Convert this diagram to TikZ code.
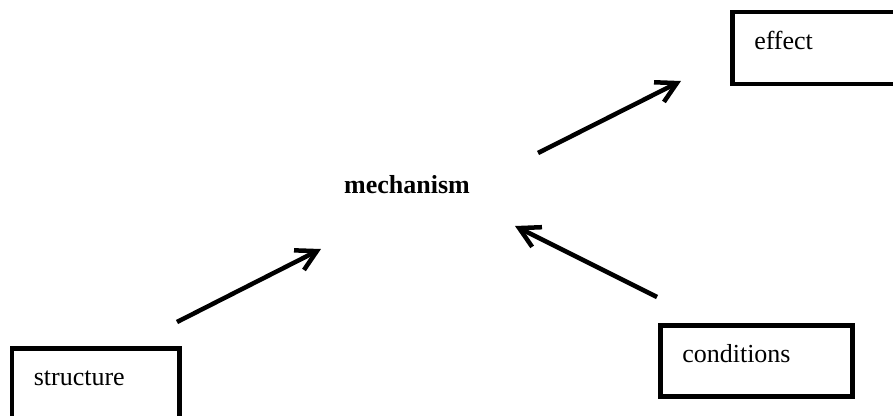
\documentclass[tikz,border=0pt]{standalone}
\usepackage{fontspec}
\setmainfont{Liberation Serif}
\usepackage{tikz}
\usetikzlibrary{arrows.meta}

\begin{document}
\begin{tikzpicture}[x=1pt,y=-1pt]
  \tikzstyle{box} = [rectangle, draw=black, line width=4.5pt, inner xsep=22pt, inner ysep=0pt, align=left, anchor=north west, font=\fontsize{26}{30}\selectfont]
  \tikzstyle{link} = [line width=4.5pt, -{Straight Barb[length=20pt,width=22pt]}]
  \useasboundingbox (0,0) rectangle (893,415);
  \clip (0,0) rectangle (893,415);

  \node (effect) [box, text width=146pt, text height=37.5pt, text depth=34.5pt] at (730,9.5) {effect};
  \node (structure) [box, text width=123.5pt, text height=37.5pt, text depth=34.5pt] at (9.5,346) {structure};
  \node (conditions) [box, text width=148pt, text height=37pt, text depth=34pt] at (658,323) {conditions};
  \node (mech) [anchor=base west, inner sep=0pt, font=\fontsize{26}{30}\selectfont\bfseries] at (344,193) {mechanism};

  \coordinate (s-out) at (177,322);
  \coordinate (s-in) at (321,249);
  \coordinate (m-out) at (538,153);
  \coordinate (e-in) at (681,81);
  \coordinate (c-out) at (657,297);
  \coordinate (c-in) at (515,226);

  \draw[link] (s-out) -- (s-in);
  \draw[link] (m-out) -- (e-in);
  \draw[link] (c-out) -- (c-in);
\end{tikzpicture}
\end{document}
